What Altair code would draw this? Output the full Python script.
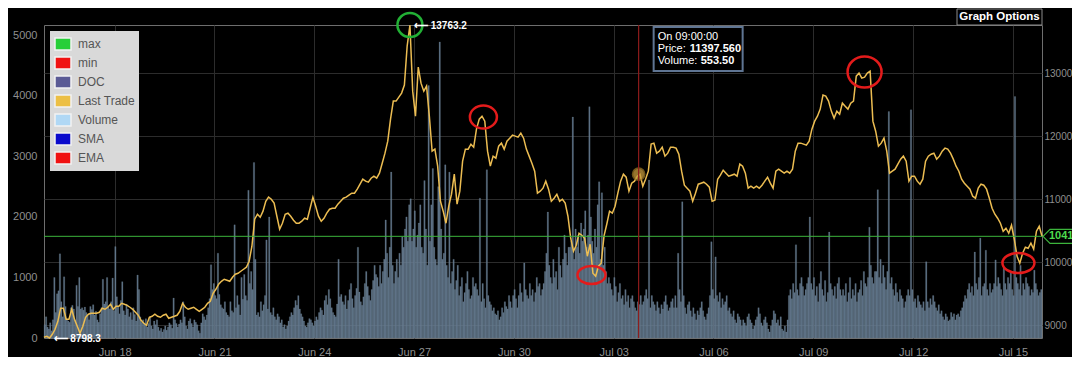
import altair as alt
import pandas as pd

FONT = "Liberation Sans"

# ---------------- data ----------------
# hourly volume, 24 bars per day, first bar 2019-06-15 21:00 UTC
volume = [
    220, 350, 180, 150, 250, 120, 300, 1000, 420, 730, 780, 1390, 600, 350, 1010, 520, 310, 280, 260, 500, 540, 480, 300, 870,
    520, 1000, 480, 500, 460, 510, 420, 380, 300, 520, 470, 550, 380, 440, 300, 260, 400, 500, 970, 560, 600, 1000, 520, 480,
    600, 990, 450, 1510, 680, 520, 400, 620, 930, 450, 380, 560, 480, 350, 420, 300, 500, 390, 280, 1040, 800, 350, 260, 300,
    250, 320, 180, 240, 350, 200, 150, 280, 220, 300, 180, 120, 160, 100, 140, 200, 130, 180, 250, 220, 160, 660, 300, 240,
    180, 230, 300, 250, 600, 350, 200, 150, 280, 320, 240, 180, 300, 260, 220, 120, 80, 250, 400, 350, 300, 380, 500, 650,
    1210, 800, 900, 700, 650, 1400, 720, 550, 500, 480, 600, 420, 380, 350, 600, 450, 420, 1870, 500, 700, 550, 380, 1000, 640,
    1050, 700, 620, 2440, 900, 1100, 800, 2900, 1300, 380, 420, 350, 600, 450, 550, 700, 1620, 480, 2000, 420, 380, 500, 350, 300,
    400, 350, 250, 300, 180, 220, 150, 200, 280, 350, 420, 380, 500, 620, 540, 700, 480, 400, 350, 280, 200, 180, 250, 320,
    300, 250, 200, 280, 350, 300, 420, 500, 460, 380, 620, 700, 550, 800, 650, 500, 420, 380, 350, 560, 1300, 680, 720, 600,
    550, 700, 480, 620, 800, 900, 650, 500, 700, 820, 1500, 760, 600, 540, 680, 900, 1100, 850, 700, 620, 800, 950, 1200, 1050,
    1000, 850, 1200, 900, 1100, 1300, 1950, 1400, 1000, 1500, 2740, 1200, 900, 1100, 1300, 1000, 1400, 1200, 1670, 1500, 1800, 2000, 1600, 2200,
    2300, 1600, 1800, 2100, 1500, 1700, 1900, 2200, 1500, 1400, 2600, 1800, 1200, 4170, 1600, 2200, 2800, 1500, 1300, 1200, 2500, 4890, 1800, 1300,
    1400, 2860, 1200, 1000, 2740, 900, 1100, 1300, 800, 950, 1200, 700, 850, 1000, 600, 750, 900, 1100, 800, 650, 700, 1000, 850, 900,
    800, 700, 2310, 600, 900, 650, 500, 2780, 700, 600, 550, 450, 500, 400, 380, 450, 300, 350, 500, 420, 600, 520, 480, 700,
    600, 500, 700, 800, 650, 500, 700, 900, 750, 600, 1240, 800, 700, 650, 900, 700, 800, 600, 750, 1000, 850, 900, 700, 800,
    900, 1100, 1400, 2080, 1200, 1000, 900, 1300, 1000, 1100, 800, 1500, 1200, 1000, 1300, 1700, 1400, 1200, 1500, 1500, 1600, 3650, 1300, 1800,
    1500, 1700, 1400, 1900, 1600, 1800, 2100, 1500, 1700, 3820, 2000, 1600, 1400, 1800, 1500, 2200, 2580, 1300, 2400, 1200, 1500, 1100, 900, 1000,
    900, 800, 700, 1000, 850, 600, 750, 900, 650, 700, 550, 800, 600, 700, 500, 650, 700, 600, 500, 450, 600, 553.5, 700, 550,
    600, 700, 800, 650, 2610, 500, 700, 600, 550, 450, 600, 500, 400, 550, 480, 600, 700, 550, 450, 500, 600, 650, 500, 700,
    500, 1400, 800, 600, 2250, 700, 500, 400, 550, 600, 450, 350, 500, 400, 300, 450, 380, 500, 600, 450, 350, 300, 400, 500,
    700, 1590, 800, 650, 1340, 700, 600, 750, 500, 650, 550, 600, 700, 450, 500, 400, 350, 450, 300, 250, 400, 350, 300, 200,
    300, 250, 200, 350, 400, 300, 250, 150, 200, 300, 350, 500, 400, 250, 200, 300, 350, 250, 150, 100, 200, 300, 450, 400,
    250, 300, 200, 350, 150, 120, 200, 100, 300, 700, 800, 650, 900, 750, 1540, 800, 700, 900, 1000, 850, 700, 800, 900, 1000,
    2000, 900, 800, 1000, 700, 850, 600, 900, 1100, 800, 700, 950, 600, 750, 1750, 900, 800, 700, 850, 650, 900, 1000, 800, 700,
    800, 700, 900, 600, 750, 1000, 650, 800, 700, 900, 600, 750, 800, 950, 700, 1100, 900, 850, 1000, 1830, 1200, 1000, 900, 1100,
    1100, 2450, 1000, 1300, 900, 1200, 1000, 800, 1100, 3740, 900, 1000, 800, 700, 900, 750, 600, 800, 700, 650, 500, 600, 700, 800,
    700, 3770, 800, 600, 650, 500, 700, 600, 550, 500, 600, 450, 1260, 600, 500, 650, 550, 700, 600, 500, 450, 550, 400, 450,
    350, 300, 400, 350, 280, 300, 420, 350, 400, 300, 380, 400, 350, 450, 500, 600, 700, 650, 800, 900, 750, 850, 700, 1420,
    900, 800, 1000, 1650, 700, 850, 900, 1450, 800, 700, 900, 750, 800, 900, 1290, 850, 1000, 900, 800, 700, 1170, 900, 800, 1000,
    900, 1100, 800, 700, 3990, 1000, 900, 800, 1200, 700, 900, 800, 1000, 900, 850, 700, 800, 750, 1120, 900, 800, 700, 750, 800,
]

# last trade every 2 hours, first point 2019-06-15 21:00 UTC
price = [
    8810, 8826, 8798.3, 8857, 8937, 9063, 9270, 9270, 9095, 9095, 9254, 9095,
    8984, 8873, 8984, 9127, 9175, 9190, 9190, 9190, 9206, 9270, 9254, 9286,
    9333, 9254, 9302, 9302, 9349, 9333, 9317, 9286, 9254, 9206, 9159, 9079,
    9032, 9000, 9127, 9143, 9175, 9143, 9127, 9159, 9175, 9111, 9127, 9143,
    9159, 9222, 9349, 9286, 9254, 9270, 9286, 9254, 9222, 9254, 9286, 9349,
    9381, 9508, 9571, 9651, 9698, 9730, 9714, 9698, 9762, 9810, 9825, 9857,
    9889, 9921, 10016, 10254, 10683, 10762, 10714, 10810, 10968, 11032, 11000, 10937,
    10730, 10524, 10619, 10762, 10778, 10730, 10667, 10619, 10619, 10651, 10698, 10683,
    10857, 11032, 10889, 10730, 10651, 10698, 10778, 10841, 10857, 10857, 10921, 10968,
    11016, 11032, 11063, 11095, 11095, 11159, 11238, 11317, 11286, 11270, 11333, 11365,
    11333, 11413, 11571, 11730, 11921, 12270, 12556, 12556, 12619, 12683, 12810, 13429,
    13763.2, 12714, 12317, 13095, 12841, 12714, 12794, 12317, 11762, 11794, 11524, 10968,
    10810, 10619, 10889, 11079, 11397, 10921, 11127, 11603, 11794, 11794, 11873, 11825,
    12111, 12270, 12317, 12238, 11762, 11524, 11683, 11651, 11841, 11889, 11794, 11921,
    11968, 12016, 12000, 11984, 12048, 11968, 11794, 11683, 11571, 11444, 11095, 11127,
    11175, 11286, 11159, 10968, 11016, 11079, 10968, 11000, 10937, 10730, 10381, 10175,
    10270, 10460, 10429, 10381, 10095, 10286, 9825, 9778, 9937, 9984, 10413, 10603,
    10810, 10778, 10889, 11095, 11286, 11397, 11349, 11127, 11254, 11286, 11365, 11397,
    11206, 11317, 11444, 11873, 11889, 11730, 11762, 11825, 11683, 11730, 11825, 11825,
    11810, 11714, 11444, 11222, 11175, 11127, 10968, 11095, 11238, 11254, 11270, 11238,
    11190, 10968, 10984, 11317, 11381, 11460, 11413, 11365, 11381, 11397, 11365, 11556,
    11524, 11413, 11175, 11206, 11175, 11206, 11175, 11222, 11286, 11349, 11254, 11175,
    11444, 11476, 11444, 11413, 11444, 11413, 11476, 11762, 11889, 11889, 11873, 11857,
    11921, 12111, 12238, 12317, 12429, 12651, 12635, 12556, 12397, 12286, 12397, 12349,
    12524, 12476, 12429, 12524, 12556, 12952, 13000, 12921, 12937, 13000, 13032, 12238,
    12079, 11841, 11889, 11968, 11762, 11413, 11444, 11476, 11556, 11635, 11683, 11603,
    11286, 11365, 11365, 11286, 11238, 11317, 11603, 11683, 11714, 11730, 11635, 11683,
    11762, 11810, 11794, 11730, 11635, 11524, 11444, 11317, 11254, 11206, 11159, 11048,
    11016, 11175, 11238, 11222, 11159, 11016, 10857, 10762, 10698, 10619, 10492, 10540,
    10460, 10587, 10365, 10095, 9984, 10143, 10238, 10222, 10302, 10206, 10492, 10571, 10411.2,
]

# circled extremes: hours after start, price
ann_hours = [264, 317, 395, 592, 703]
ann_price = [13763.2, 12304, 9797, 13017.6, 9988]

# hovered candle
hover_hour = 429
hover_clock = "09:00:00"
hover_price = 11397.560
hover_volume = 553.50

tick_days = [(6, 18), (6, 21), (6, 24), (6, 27), (6, 30), (7, 3), (7, 6), (7, 9), (7, 12), (7, 15)]
left_ticks = [0, 1000, 2000, 3000, 4000, 5000]
right_ticks = [9000, 10000, 11000, 12000, 13000]

legend_names = ["max", "min", "DOC", "Last Trade", "Volume", "SMA", "EMA"]
legend_colors = ["#27cf38", "#f01212", "#5b5b95", "#ecbf45", "#b0d8f5", "#0a0acc", "#f01212"]

# ---------------- styles ----------------
ann_colors = ["#22b035", "#e31b1b", "#e31b1b", "#e31b1b", "#e31b1b"]
ann_w = [25, 27, 28, 34, 32]
ann_h = [24, 23, 18, 31, 20]

LABEL = "#8f8f8f"
GRID = "#2c2c2c"
GOLD = "#ecbd52"
BAR = "#647a90"
GREEN = "#3cb43c"
W, H = 998, 313

# ---------------- tables ----------------
start = pd.Timestamp("2019-06-15T21:00:00Z")


def iso(ts):
    return ts.strftime("%Y-%m-%dT%H:%M:%SZ")


vol_df = pd.DataFrame({
    "t": [iso(start + pd.Timedelta(hours=i)) for i in range(len(volume))],
    "t2": [iso(start + pd.Timedelta(hours=i + 1)) for i in range(len(volume))],
    "volume": volume,
})
price_df = pd.DataFrame({
    "t": [iso(start + pd.Timedelta(hours=2 * i)) for i in range(len(price))],
    "price": price,
})
imax = price_df["price"].idxmax()
imin = price_df["price"].idxmin()
ext_df = pd.DataFrame({
    "t": [price_df["t"][imax], price_df["t"][imin]],
    "price": [price_df["price"][imax], price_df["price"][imin]],
})
ext_df["label"] = ["\u27f5 " + f"{v:.1f}" for v in ext_df["price"]]
last_df = pd.DataFrame({"t": [price_df["t"].iloc[-1]], "price": [price[-1]]})
hover_df = pd.DataFrame({
    "t": [iso(start + pd.Timedelta(hours=hover_hour))],
    "price": [hover_price],
    "volume": [hover_volume],
    "clock": ["On " + hover_clock],
})
legend_df = pd.DataFrame({"series": legend_names})
button_df = pd.DataFrame({"label": ["Graph Options"]})

# ---------------- scales / axes ----------------
x_scale = alt.Scale(
    type="utc",
    domain=[alt.DateTime(year=2019, month=6, date=15, hours=21, utc=True),
            alt.DateTime(year=2019, month=7, date=15, hours=21, utc=True)],
)
x_axis = alt.Axis(
    values=[alt.DateTime(year=2019, month=m, date=d, utc=True) for m, d in tick_days],
    format="%b %d", labelColor=LABEL, labelFont=FONT, labelFontSize=11, labelPadding=8,
    ticks=False, domain=False, grid=True, gridColor=GRID, gridWidth=1, title=None,
    labelOverlap=False, labelFlush=False,
)
p_scale = alt.Scale(domain=[8798.3, 13763.2], nice=False, zero=False)
right_axis = alt.Axis(
    orient="right", values=right_ticks, format="d", labelColor=LABEL, labelFont=FONT,
    labelFontSize=10, labelPadding=2, ticks=False, domain=False, grid=True,
    gridColor=GRID, gridWidth=1, title=None, labelFlush=False,
)
v_scale = alt.Scale(domain=[0, 5170], nice=False, zero=True)
left_axis = alt.Axis(
    orient="left", values=left_ticks, format="d", labelColor=LABEL, labelFont=FONT,
    labelFontSize=11, labelPadding=7, ticks=False, domain=False, grid=False,
    title=None, labelFlush=False,
)


def X():
    return alt.X("t:T", scale=x_scale, axis=x_axis, title=None)


def Y():
    return alt.Y("price:Q", scale=p_scale, axis=right_axis, title=None)


def ellipse(ratio):
    k = 0.5523
    b = ratio
    return (f"M-1,0C-1,{-k*b:.4f} {-k},{-b:.4f} 0,{-b:.4f}"
            f"C{k},{-b:.4f} 1,{-k*b:.4f} 1,0"
            f"C1,{k*b:.4f} {k},{b:.4f} 0,{b:.4f}"
            f"C{-k},{b:.4f} -1,{k*b:.4f} -1,0Z")


# ---------------- layers ----------------
bars = alt.Chart(vol_df).mark_rect(
    color=BAR, opacity=0.9, stroke="#8a9db2", strokeWidth=0.3, strokeOpacity=0.6
).encode(
    x=X(), x2=alt.X2("t2"),
    y=alt.Y("volume:Q", scale=v_scale, axis=left_axis, title=None),
    y2=alt.datum(0),
)

line = alt.Chart(price_df).mark_line(color=GOLD, strokeWidth=1.5).encode(x=X(), y=Y())

last_rule = alt.Chart(last_df).mark_rule(color=GREEN, strokeWidth=1).encode(y=Y())

circles = []
for i in range(len(ann_hours)):
    d = pd.DataFrame({"t": [iso(start + pd.Timedelta(hours=ann_hours[i]))], "price": [ann_price[i]]})
    circles.append(
        alt.Chart(d).mark_point(
            shape=ellipse(ann_h[i] / ann_w[i]), size=ann_w[i] ** 2, filled=False,
            color=ann_colors[i], strokeWidth=2.5, opacity=1,
        ).encode(x=X(), y=Y())
    )

ext_text = alt.Chart(ext_df).mark_text(
    align="left", baseline="middle", dx=4, dy=1, color="white", font=FONT,
    fontSize=10, fontWeight="bold",
).encode(x=X(), y=Y(), text="label:N")

hover_dot = alt.Chart(hover_df).mark_circle(
    size=150, color="#c89c3c", opacity=0.75, stroke="#9a7422", strokeWidth=1.5
).encode(x=X(), y=Y())

green_tag = alt.Chart(last_df).mark_point(
    shape="M0,0L1,-1L9,-1L9,1L1,1Z", size=196, filled=True, fill="black",
    stroke=GREEN, strokeWidth=1.2, opacity=1,
).encode(x=alt.value(W + 1), y=Y())
green_text = alt.Chart(last_df).mark_text(
    align="left", baseline="middle", color="#4ddc4d", font=FONT, fontSize=11, fontWeight="bold",
).encode(x=alt.value(W + 7), y=Y(), text=alt.Text("price:Q", format=".1f"))

price_group = alt.layer(line, last_rule, *circles, ext_text, hover_dot, green_tag, green_text)

red_rule = alt.Chart(hover_df).mark_rule(color="#8e1c1c", strokeWidth=1.2).encode(x=X())

tip_box = alt.Chart(hover_df).mark_rect(
    fill="black", stroke="#5f7593", strokeWidth=2, xOffset=15, x2Offset=104
).encode(x=X(), x2=alt.X2("t"), y=alt.value(2), y2=alt.value(46))


def tip_text(dx, y, text, bold=False):
    return alt.Chart(hover_df).mark_text(
        align="left", baseline="middle", dx=dx, color="white", font=FONT, fontSize=11,
        fontWeight="bold" if bold else "normal",
    ).encode(x=X(), y=alt.value(y), text=text)


tips = [
    tip_text(19, 12, "clock:N"),
    tip_text(19, 24, alt.value("Price:")),
    tip_text(51, 24, alt.Text("price:Q", format=".3f"), True),
    tip_text(19, 36, alt.value("Volume:")),
    tip_text(62, 36, alt.Text("volume:Q", format=".2f"), True),
]

button_box = alt.Chart(button_df).mark_rect(
    fill="black", stroke="#8c8c8c", strokeWidth=1
).encode(x=alt.value(W - 85), x2=alt.value(W), y=alt.value(-16), y2=alt.value(0))
button_text = alt.Chart(button_df).mark_text(
    color="white", font=FONT, fontSize=11.5, fontWeight="bold", baseline="middle"
).encode(x=alt.value(W - 42.5), y=alt.value(-8), text="label:N")

legend_layer = alt.Chart(legend_df).mark_point(filled=True, opacity=0).encode(
    x=alt.value(0), y=alt.value(0),
    color=alt.Color(
        "series:N",
        scale=alt.Scale(domain=legend_names, range=legend_colors),
        legend=alt.Legend(
            orient="top-left", offset=6, padding=4, fillColor="#d9d9d9", title=None,
            labelColor="#555555", labelFont=FONT, labelFontSize=12, labelOffset=6,
            symbolType="M-1,-0.75L1,-0.75L1,0.75L-1,0.75Z", symbolSize=256,
            symbolOpacity=1, symbolStrokeColor="#f2f2f2", symbolStrokeWidth=1.5,
            rowPadding=1, zindex=2, cornerRadius=0,
        ),
    ),
)

chart = alt.layer(
    bars, price_group, red_rule, tip_box, *tips, button_box, button_text, legend_layer
).resolve_scale(y="independent").properties(
    width=W, height=H,
    autosize=alt.AutoSizeParams(type="none"),
    padding={"left": 36, "top": 17, "right": 30, "bottom": 19},
    background="black",
).configure_view(stroke="#6e6e6e", strokeWidth=1)

chart.save("out.html", embed_options={"renderer": "svg", "actions": False})
